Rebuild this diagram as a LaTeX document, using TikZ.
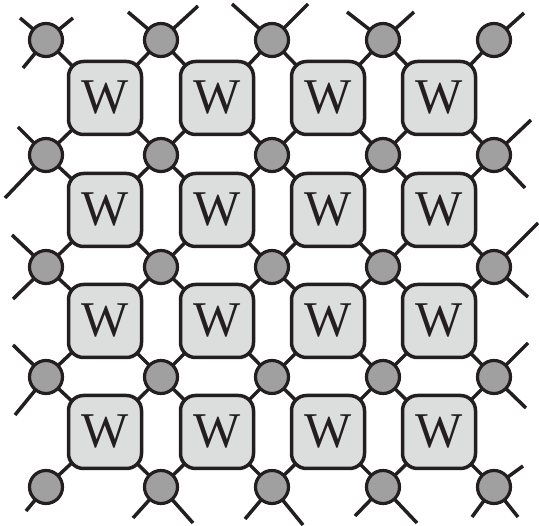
\documentclass[tikz,border=0pt]{standalone}
\usepackage{fontspec}
\setmainfont{Liberation Serif}
\usetikzlibrary{backgrounds}
\definecolor{ink}{HTML}{231F20}
\definecolor{boxfill}{HTML}{DCDEDE}
\definecolor{dotfill}{HTML}{A0A0A0}
\begin{document}
\begin{tikzpicture}[x=1pt,y=-1pt,
  wbox/.style={draw=ink, fill=boxfill, line width=3.5pt, rounded corners=15pt,
    minimum size=73pt, inner sep=0pt, font=\fontsize{50}{50}\selectfont, text=ink},
  dot/.style={circle, draw=ink, fill=dotfill, line width=3.2pt, minimum size=33pt, inner sep=0pt},
  leg/.style={draw=ink, line width=3.5pt}]
\useasboundingbox (0,0) rectangle (539,526);
% W boxes
\foreach \x [count=\i] in {105,217,328,439}{
  \foreach \y [count=\j] in {98,210,321,432}{
    \node[wbox] (b\i\j) at (\x,\y) {W};
  }
}
% circles
\foreach \x [count=\i from 0] in {46,161,272,383,494}{
  \foreach \y [count=\j from 0] in {40,155,267,377,487}{
    \node[dot] (c\i\j) at (\x,\y) {};
  }
}
\begin{scope}[on background layer]
% connectors circle -- box
\foreach \i in {1,...,4}{
  \foreach \j in {1,...,4}{
    \pgfmathtruncatemacro{\ip}{\i-1}
    \pgfmathtruncatemacro{\jp}{\j-1}
    \draw[leg] (c\ip\jp.center) -- (b\i\j.center);
    \draw[leg] (c\i\jp.center) -- (b\i\j.center);
    \draw[leg] (c\ip\j.center) -- (b\i\j.center);
    \draw[leg] (c\i\j.center) -- (b\i\j.center);
  }
}
% free legs
\foreach \c/\ex/\ey/\n in {
  00/20/18/a, 00/73/18/b, 00/23/68/c,
  10/128/12/d, 10/198/6/e,
  20/232/4/f, 20/308/4/g,
  30/347/12/h, 30/414/12/i,
  40/524/13/j,
  01/18/127/k, 01/5/198/l,
  02/12/235/m, 02/13/299/n,
  03/13/345/o, 03/15/415/p,
  04/26/511/q,
  41/531/120/r, 41/525/188/s,
  42/538/223/t, 42/528/297/u,
  43/528/343/v, 43/526/408/w,
  44/523/466/x, 44/518/517/y, 44/472/517/z,
  14/133/518/aa, 14/193/523/ab,
  24/245/519/ac, 24/303/525/ad,
  34/355/516/ae, 34/417/523/af}{
  \coordinate (leg\n) at (\ex,\ey);
  \draw[leg] (c\c.center) -- (leg\n);
}
\end{scope}
\end{tikzpicture}
\end{document}
